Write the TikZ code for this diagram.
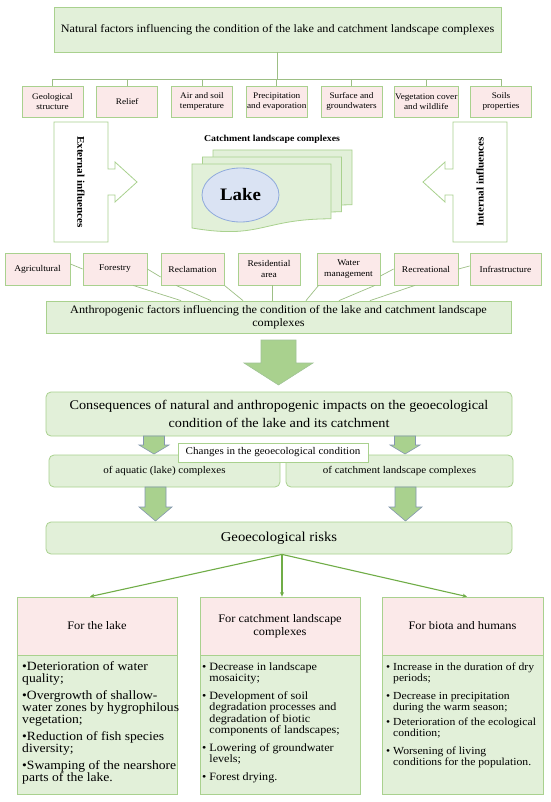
\documentclass[tikz,border=0pt]{standalone}
\usepackage{fontspec}
\setmainfont{Liberation Serif}[FakeStretch=1.08]
\usetikzlibrary{calc,shapes.geometric,arrows.meta}
\newcommand{\fsz}[2]{\fontsize{#1}{#2}\selectfont}
\newcommand{\mybul}{\textbullet\ }
\newcommand{\myind}{\hphantom{\textbullet\ }}
\definecolor{gfill}{HTML}{E2F0D9}
\definecolor{gline}{HTML}{A9D18E}
\definecolor{pfill}{HTML}{FBE9E9}
\definecolor{treeline}{HTML}{9DBF85}
\definecolor{arrfill}{HTML}{A9D18E}
\definecolor{slate}{HTML}{8497B0}
\definecolor{riskarrow}{HTML}{70AD47}
\definecolor{lakefill}{HTML}{DAE3F3}
\definecolor{lakeline}{HTML}{8FAADC}
\begin{document}
\begin{tikzpicture}[x=1pt,y=-1pt,
  gbox/.style={draw=gline, fill=gfill, line width=0.8pt, align=center, inner sep=1pt},
  pbox/.style={draw=gline, fill=pfill, line width=0.8pt, align=center, inner sep=1pt},
  rbox/.style={gbox, rounded corners=5pt},
  tree/.style={draw=treeline, line width=0.7pt},
  blk/.style={fill=arrfill, draw=slate, line width=0.6pt},
  riskarr/.style={draw=riskarrow, line width=1.1pt, -{Stealth[length=4.5pt,width=4pt]}},
  btext/.style={anchor=north west, align=left, inner sep=0pt},
  shp/.style={draw=gline, fill=white, line width=0.8pt},
]
\useasboundingbox[fill=white] (0,0) rectangle (550,802);

% ---------- natural factors ----------
\node[gbox, minimum width=447pt, minimum height=45pt, font=\fsz{11.3}{13}] (nat) at (277.5,29.5)
  {Natural factors influencing the condition of the lake and catchment landscape complexes};
\foreach \t [count=\k from 0] in {{Geological\\structure},{Relief},{Air and soil\\temperature},{Precipitation\\and evaporation},{Surface and\\groundwaters},{Vegetation cover\\and wildlife},{Soils\\properties}}{
  \node[pbox, minimum width=61pt, minimum height=31pt, font=\fsz{8.55}{10}] (f\k) at ({52.5+74.75*\k},101.5) {\t};
}
\coordinate (bus) at (277.5,79);
\draw[tree] (nat.south) -- (bus);
\foreach \k in {0,...,6}{ \draw[tree] (f\k.north) |- (bus); }

% ---------- external / internal ----------
\draw[shp] (54,122) -- (108,122) -- (108,169) -- (115,169) -- (115,162) -- (137,182) -- (115,202) -- (115,195) -- (108,195) -- (108,242) -- (54,242) -- cycle;
\node[rotate=-90, font=\bfseries\fsz{10.3}{12}] (ext) at (81,182) {External influences};
\draw[shp] (453,122) -- (507,122) -- (507,242) -- (453,242) -- (453,195) -- (445,195) -- (445,202) -- (423,182) -- (445,162) -- (445,169) -- (453,169) -- cycle;
\node[rotate=90, font=\bfseries\fsz{10.3}{12}] (int) at (480,182) {Internal influences};

% ---------- catchment / lake ----------
\node[font=\bfseries\fsz{9.1}{10}] (catl) at (272,139) {Catchment landscape complexes};
\foreach \dx/\dy in {21/-14,10.5/-7,0/0}{
  \draw[draw=gline, fill=gfill, line width=0.8pt, shift={(192+\dx,164+\dy)}]
    (0,0) -- (139,0) -- (139,54.8) .. controls (69.5,54.8) and (69.5,75.8) .. (0,64) -- cycle;
}
\node[ellipse, draw=lakeline, fill=lakefill, line width=0.8pt, minimum width=77pt, minimum height=54pt, inner sep=0pt, font=\bfseries\fsz{17.5}{20}] (lake) at (240.5,195) {Lake};

% ---------- anthropogenic ----------
\foreach \n/\cx/\w/\t in {agr/37.5/65/Agricultural, frs/115/64/Forestry, rcl/192.5/63/Reclamation, res/269/62/{Residential\\area}, wat/348.5/63/{Water\\management}, rcr/426/64/Recreational, inf/505.5/71/Infrastructure}{
  \node[pbox, minimum width=\w pt, minimum height=32pt, font=\fsz{8.8}{10.5}] (\n) at (\cx,269) {\t};
}
\node[gbox, minimum width=465pt, minimum height=32pt, font=\fsz{11.35}{12.5}] (anth) at (278.5,317)
  {Anthropogenic factors influencing the condition of the lake and catchment landscape\\complexes};
\draw[tree] ($(agr.east)+(0,-5)$) -- (frs.west);
\draw[tree] (frs.east) -- ($(rcl.west)+(0,8)$);
\draw[tree] ($(frs.south)+(18,0)$) -- ($(anth.north)+(-97.5,0)$);
\draw[tree] ($(rcl.south)+(-16.5,0)$) -- ($(anth.north)+(-67.5,0)$);
\draw[tree] (rcl.south east) -- ($(anth.north)+(-35.5,0)$);
\draw[tree] ($(res.south)+(3,0)$) -- ($(anth.north)+(-6.5,0)$);
\draw[tree] ($(wat.south west)+(2,0)$) -- ($(anth.north)+(27.5,0)$);
\draw[tree] ($(wat.south)+(26.5,0)$) -- ($(anth.north)+(60.5,0)$);
\draw[tree] ($(rcr.south)+(-11,0)$) -- ($(anth.north)+(91.5,0)$);
\draw[tree] ($(wat.east)+(0,7)$) -- (rcr.west);
\draw[tree] (rcr.east) -- ($(inf.west)+(0,-3)$);

% ---------- big arrow ----------
\draw[fill=arrfill, draw=arrfill!75!slate, line width=0.6pt] (261,340)--(296,340)--(296,363)--(313,363)--(278.5,385)--(244,363)--(261,363)--cycle;

% ---------- consequences ----------
\node[rbox, minimum width=466pt, minimum height=44pt, font=\fsz{13.2}{18}] (cons) at (279,414)
  {Consequences of natural and anthropogenic impacts on the geoecological\\condition of the lake and its catchment};
\draw[blk] (143.5,436)--(164.5,436)--(164.5,445)--(169,445)--(154,454)--(139,445)--(143.5,445)--cycle;
\draw[blk] (394.5,436)--(415.5,436)--(415.5,445)--(420,445)--(405,454)--(390,445)--(394.5,445)--cycle;

\node[rbox, minimum width=231pt, minimum height=32pt, font=\fsz{10.2}{11}] (aq) at (164.5,471) {of aquatic (lake) complexes};
\node[rbox, minimum width=227pt, minimum height=32pt, font=\fsz{10.2}{11}] (cat) at (399.5,471) {of catchment landscape complexes};
\node[draw=gline, fill=white, line width=0.8pt, minimum width=190pt, minimum height=19pt, inner sep=1pt, font=\fsz{10.25}{11}] (chg) at (273,452.5) {Changes in the geoecological condition};

\draw[blk] (145,487)--(166,487)--(166,507)--(172,507)--(155.5,521)--(139,507)--(145,507)--cycle;
\draw[blk] (395,487)--(416,487)--(416,507)--(422,507)--(405.5,521)--(389,507)--(395,507)--cycle;

% ---------- risks ----------
\node[rbox, minimum width=466pt, minimum height=32pt, font=\fsz{13.6}{16}] (risk) at (279,538) {Geoecological risks};

\node[pbox, minimum width=160pt, minimum height=58pt, font=\fsz{11.5}{13.5}] (h1) at (97,626) {For the lake};
\node[pbox, minimum width=160pt, minimum height=58pt, font=\fsz{11.5}{13.5}] (h2) at (280,626) {For catchment landscape\\complexes};
\node[pbox, minimum width=161pt, minimum height=58pt, font=\fsz{11.5}{13.5}] (h3) at (462.5,626) {For biota and humans};
\node[gbox, minimum width=160pt, minimum height=139pt, anchor=north] (b1) at (h1.south) {};
\node[gbox, minimum width=160pt, minimum height=139pt, anchor=north] (b2) at (h2.south) {};
\node[gbox, minimum width=161pt, minimum height=139pt, anchor=north] (b3) at (h3.south) {};

\node[btext, font=\fsz{12.6}{12.1}] (t1) at (22,661)
  {\textbullet Deterioration of water\\quality;\\[4.8pt]
   \textbullet Overgrowth of shallow-\\water zones by hygrophilous\\vegetation;\\[4.8pt]
   \textbullet Reduction of fish species\\diversity;\\[4.8pt]
   \textbullet Swamping of the nearshore\\parts of the lake.};
\node[btext, font=\fsz{11.2}{11.2}] (t2) at (202,662.4)
  {\mybul Decrease in landscape\\\myind mosaicity;\\[7pt]
   \mybul Development of soil\\\myind degradation processes and\\\myind degradation of biotic\\\myind components of landscapes;\\[7pt]
   \mybul Lowering of groundwater\\\myind levels;\\[7pt]
   \mybul Forest drying.};
\node[btext, font=\fsz{10.8}{11}] (t3) at (386,662.7)
  {\mybul Increase in the duration of dry\\\myind periods;\\[7.4pt]
   \mybul Decrease in precipitation\\\myind during the warm season;\\[4pt]
   \mybul Deterioration of the ecological\\\myind condition;\\[6.7pt]
   \mybul Worsening of living\\\myind conditions for the population.};

\coordinate (rs) at ($(risk.south)+(3,0)$);
\draw[riskarr] (rs) -- ($(h1.north)+(-7,0)$);
\draw[riskarr] (rs) -- (rs |- h2.north);
\draw[riskarr] (rs) -- ($(h3.north)+(4.5,0)$);
\end{tikzpicture}
\end{document}
